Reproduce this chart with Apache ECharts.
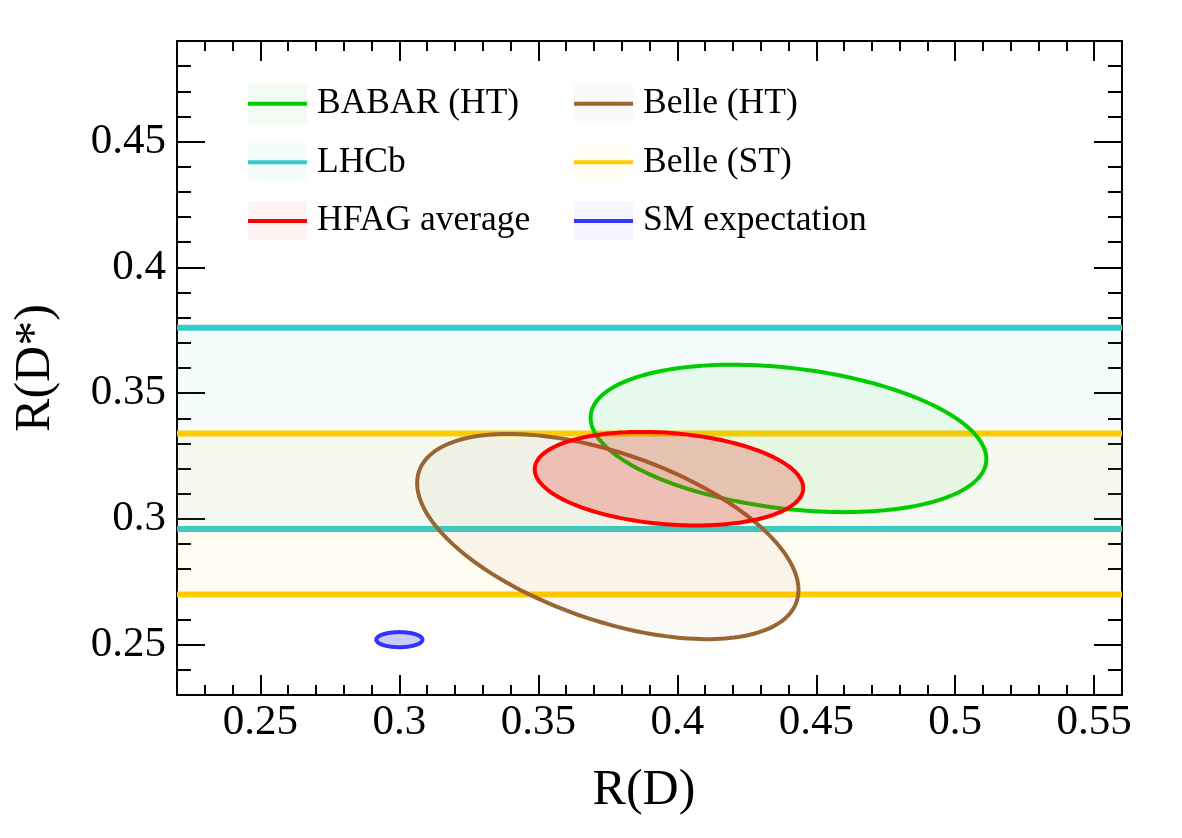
<!DOCTYPE html>
<html><head><meta charset="utf-8">
<script src="https://cdn.jsdelivr.net/npm/echarts@6/dist/echarts.min.js"></script>
<style>html,body{margin:0;padding:0;background:#fff}#c{width:1182px;height:838px}</style>
</head><body><div id="c"></div>
<script>
// ---- data ----
const xRange = [0.22, 0.56];
const yRange = [0.23, 0.49];
const xMajorTicks = [0.25, 0.3, 0.35, 0.4, 0.45, 0.5, 0.55];
const yMajorTicks = [0.25, 0.3, 0.35, 0.4, 0.45];

const bandNames = ['LHCb', 'Belle (ST)'];
const bandLow  = [0.296, 0.270];
const bandHigh = [0.376, 0.334];

const ellipseNames = ['BABAR (HT)', 'Belle (HT)', 'HFAG average', 'SM expectation'];
const centerRD     = [0.440, 0.375, 0.397, 0.300];
const centerRDstar = [0.332, 0.293, 0.316, 0.252];
const sigmaRD      = [0.0712, 0.0686, 0.0483, 0.0083];
const sigmaRDstar  = [0.0293, 0.0408, 0.0186, 0.0030];
const correlation  = [-0.28, -0.52, -0.20, 0.0];

const legendRows = [['BABAR (HT)', 'Belle (HT)'], ['LHCb', 'Belle (ST)'], ['HFAG average', 'SM expectation']];

// ---- styles ----
const FONT = '"Liberation Serif", "Times New Roman", serif';
const styleOf = {
  'BABAR (HT)':     {stroke: '#00cc00', fill: 'rgba(0,204,0,0.06)',    legendFill: 'rgba(0,204,0,0.05)'},
  'Belle (HT)':     {stroke: '#996633', fill: 'rgba(153,102,51,0.045)', legendFill: 'rgba(153,102,51,0.04)'},
  'HFAG average':   {stroke: '#ff0000', fill: 'rgba(230,40,30,0.25)',  legendFill: 'rgba(255,0,0,0.05)'},
  'SM expectation': {stroke: '#3333ff', fill: 'rgba(51,51,220,0.25)',  legendFill: 'rgba(51,51,255,0.05)'},
  'LHCb':           {stroke: '#33cccc', fill: 'rgba(51,204,204,0.05)', legendFill: 'rgba(51,204,204,0.05)'},
  'Belle (ST)':     {stroke: '#ffcc00', fill: 'rgba(255,204,0,0.05)',  legendFill: 'rgba(255,204,0,0.04)'}
};

function minorTicks(r) {
  const out = [];
  for (let v = Math.round(r[0] * 100) + 1; v < Math.round(r[1] * 100); v++) out.push(v / 100);
  return out;
}
const xMinorTicks = minorTicks(xRange);
const yMinorTicks = minorTicks(yRange);

const chart = echarts.init(document.getElementById('c'), null, {renderer: 'canvas'});

const axisLineStyle = {show: true, lineStyle: {color: '#000', width: 2}};
function xAxisDef(pos, major, withLabel) {
  const a = {
    type: 'value', min: xRange[0], max: xRange[1], position: pos,
    axisLine: major ? axisLineStyle : {show: false},
    axisTick: {show: true, inside: true, length: major ? 20 : 10,
      customValues: major ? xMajorTicks : xMinorTicks, lineStyle: {color: '#000', width: 2}},
    axisLabel: withLabel ? {show: true, customValues: xMajorTicks, fontSize: 43, fontFamily: FONT, color: '#000', margin: 6} : {show: false},
    splitLine: {show: false}
  };
  if (withLabel) {
    a.name = 'R(D)'; a.nameLocation = 'middle'; a.nameGap = 71;
    a.nameTextStyle = {fontSize: 50, fontFamily: FONT, color: '#000', padding: [0, 11, 0, 0]};
  }
  return a;
}
function yAxisDef(pos, major, withLabel) {
  const a = {
    type: 'value', min: yRange[0], max: yRange[1], position: pos,
    axisLine: major ? axisLineStyle : {show: false},
    axisTick: {show: true, inside: true, length: major ? 28 : 14,
      customValues: major ? yMajorTicks : yMinorTicks, lineStyle: {color: '#000', width: 2}},
    axisLabel: withLabel ? {show: true, customValues: yMajorTicks, fontSize: 43, fontFamily: FONT, color: '#000', margin: 11} : {show: false},
    splitLine: {show: false}
  };
  if (withLabel) {
    a.name = 'R(D*)'; a.nameLocation = 'middle'; a.nameGap = 116; a.nameRotate = 90;
    a.nameTextStyle = {fontSize: 50, fontFamily: FONT, color: '#000'};
  }
  return a;
}

const series = [];
bandNames.forEach((name, i) => {
  const st = styleOf[name];
  series.push({
    type: 'custom', name: name, xAxisIndex: 0, yAxisIndex: 0, z: 2,
    data: [[xRange[0], bandLow[i], xRange[1], bandHigh[i]]],
    renderItem: function (params, api) {
      const pHi = api.coord([api.value(0), api.value(3)]);
      const pLo = api.coord([api.value(2), api.value(1)]);
      return {type: 'group', children: [
        {type: 'rect', shape: {x: pHi[0], y: pHi[1], width: pLo[0] - pHi[0], height: pLo[1] - pHi[1]}, style: {fill: st.fill}},
        {type: 'line', shape: {x1: pHi[0], y1: pHi[1], x2: pLo[0], y2: pHi[1]}, style: {stroke: st.stroke, lineWidth: 6}},
        {type: 'line', shape: {x1: pHi[0], y1: pLo[1], x2: pLo[0], y2: pLo[1]}, style: {stroke: st.stroke, lineWidth: 6}}
      ]};
    }
  });
});
ellipseNames.forEach((name, i) => {
  const st = styleOf[name];
  series.push({
    type: 'custom', name: name, xAxisIndex: 0, yAxisIndex: 0, z: 3 + i,
    data: [[centerRD[i], centerRDstar[i], sigmaRD[i], sigmaRDstar[i], correlation[i]]],
    renderItem: function (params, api) {
      const cx = api.value(0), cy = api.value(1), sx = api.value(2), sy = api.value(3), r = api.value(4);
      const pts = [];
      const N = 200;
      for (let k = 0; k < N; k++) {
        const t = 2 * Math.PI * k / N;
        const x = cx + sx * Math.cos(t);
        const y = cy + sy * (r * Math.cos(t) + Math.sqrt(1 - r * r) * Math.sin(t));
        pts.push(api.coord([x, y]));
      }
      return {type: 'polygon', shape: {points: pts}, style: {fill: st.fill, stroke: st.stroke, lineWidth: 4}};
    }
  });
});

// legend built as graphic (box + line + text)
const legendGraphics = [];
const colX = [248, 574];
const rowY = [103.7, 162.3, 221];
legendRows.forEach((row, ri) => {
  row.forEach((name, ci) => {
    const st = styleOf[name];
    const x = colX[ci], y = rowY[ri];
    legendGraphics.push({type: 'rect', shape: {x: x, y: y - 19.5, width: 59, height: 39}, style: {fill: st.legendFill}, silent: true});
    legendGraphics.push({type: 'line', shape: {x1: x, y1: y, x2: x + 59, y2: y}, style: {stroke: st.stroke, lineWidth: 4}, silent: true});
    legendGraphics.push({type: 'text', x: x + 69, y: y, style: {text: name, fontSize: 35.5, fontFamily: FONT, fill: '#000', align: 'left', verticalAlign: 'middle'}, silent: true});
  });
});

chart.setOption({
  animation: false,
  backgroundColor: '#fff',
  grid: {left: 177, right: 60, top: 41, bottom: 143, containLabel: false},
  xAxis: [xAxisDef('bottom', true, true), xAxisDef('bottom', false, false), xAxisDef('top', true, false), xAxisDef('top', false, false)],
  yAxis: [yAxisDef('left', true, true), yAxisDef('left', false, false), yAxisDef('right', true, false), yAxisDef('right', false, false)],
  series: series,
  graphic: legendGraphics
});
</script>
</body></html>
